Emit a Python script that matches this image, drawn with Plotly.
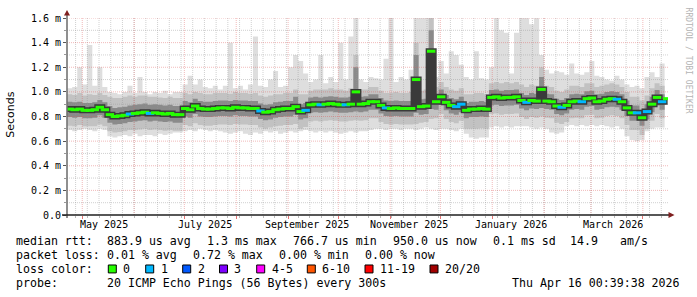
import plotly.graph_objects as go
import pandas as pd

# ---------------- data ----------------
dates = pd.date_range("2025-04-22", periods=120, freq="3D")

med = [0.86, 0.855, 0.86, 0.85, 0.85, 0.855, 0.875, 0.855,
       0.815, 0.80, 0.805, 0.81, 0.82, 0.825, 0.83, 0.835, 0.825, 0.83, 0.825, 0.82, 0.825, 0.815, 0.815,
       0.865, 0.855, 0.885, 0.865, 0.86, 0.86, 0.865, 0.87,
       0.87, 0.865, 0.875, 0.87, 0.87, 0.865, 0.865, 0.845, 0.835, 0.84,
       0.855, 0.86, 0.865, 0.865, 0.88, 0.84, 0.85,
       0.895, 0.9, 0.895, 0.9, 0.905, 0.9, 0.895, 0.895, 0.9, 1.0, 0.9, 0.905,
       0.92, 0.92, 0.89, 0.87, 0.865, 0.87, 0.865, 0.865, 0.865, 1.1,
       0.88, 0.885, 1.33, 0.92, 0.96, 0.915, 0.89, 0.88, 0.9, 0.85,
       0.86, 0.86, 0.865, 0.86, 0.955, 0.96, 0.95, 0.955, 0.955, 0.96,
       0.93, 0.915, 0.93, 0.925, 1.02, 0.925, 0.92, 0.885, 0.875, 0.89,
       0.92, 0.925, 0.92, 0.945, 0.95, 0.92, 0.925, 0.94, 0.945, 0.94,
       0.92, 0.87, 0.83, 0.83, 0.79, 0.84, 0.9, 0.955, 0.92, 0.945]

hi = [1.03, 1.04, 1.2, 1.06, 1.38, 1.05, 1.2, 1.04,
      1.0, 0.99, 0.98, 1.0, 1.05, 0.99, 1.12, 1.0, 0.98, 1.0, 0.99, 1.01, 0.98, 1.0, 1.0,
      1.06, 1.13, 1.06, 1.1, 1.04, 1.03, 1.05, 1.02,
      1.05, 1.4, 1.03, 1.05, 1.02, 1.06, 1.45, 1.05, 1.04, 1.1,
      1.17, 1.04, 1.05, 1.2, 1.3, 1.25, 1.15,
      1.08, 1.1, 1.3, 1.07, 1.12, 1.08, 1.4, 1.1, 1.45, 1.6, 1.1, 1.08,
      1.12, 1.11, 1.1, 1.27, 1.6, 1.08, 1.12, 1.1, 1.18, 1.6,
      1.6, 1.6, 1.6, 1.12, 1.25, 1.15, 1.33, 1.3, 1.22, 1.12,
      1.1, 1.33, 1.11, 1.1, 1.2, 1.6, 1.5, 1.48, 1.15, 1.48,
      1.6, 1.6, 1.55, 1.6, 1.3, 1.18, 1.15, 1.17, 1.16, 1.14,
      1.23, 1.15, 1.14, 1.16, 1.25, 1.13, 1.12, 1.1, 1.09, 1.13,
      1.1, 1.06, 1.04, 1.05, 1.03, 1.12, 1.16, 1.12, 1.23, 1.15]

lo = [0.69, 0.68, 0.69, 0.70, 0.69, 0.68, 0.70, 0.69,
      0.64, 0.63, 0.64, 0.65, 0.64, 0.66, 0.64, 0.65, 0.65, 0.64, 0.66, 0.65, 0.66, 0.67, 0.67,
      0.68, 0.69, 0.68, 0.70, 0.69, 0.68, 0.69, 0.68,
      0.67, 0.66, 0.67, 0.68, 0.66, 0.65, 0.67, 0.66, 0.68, 0.67,
      0.68, 0.66, 0.67, 0.68, 0.67, 0.68, 0.69,
      0.68, 0.67, 0.68, 0.67, 0.68, 0.67, 0.66, 0.67, 0.68, 0.67, 0.68, 0.68,
      0.69, 0.70, 0.70, 0.69, 0.70, 0.70, 0.69, 0.70, 0.70, 0.69,
      0.70, 0.71, 0.70, 0.69, 0.70, 0.70, 0.69, 0.68, 0.70, 0.66,
      0.63, 0.62, 0.63, 0.63, 0.71, 0.72, 0.71, 0.72, 0.71, 0.72,
      0.72, 0.72, 0.71, 0.70, 0.71, 0.70, 0.67, 0.66, 0.67, 0.72,
      0.73, 0.72, 0.73, 0.72, 0.73, 0.72, 0.73, 0.72, 0.71, 0.72,
      0.70, 0.64, 0.61, 0.60, 0.61, 0.68, 0.70, 0.71, 0.71, 0.72]

bh = [0.98, 0.975, 0.99, 0.97, 0.98, 0.975, 0.99, 0.975,
      0.96, 0.95, 0.95, 0.96, 0.97, 0.96, 0.97, 0.97, 0.96, 0.96, 0.955, 0.95, 0.96, 0.95, 0.95,
      0.99, 0.98, 1.0, 0.99, 0.98, 0.98, 0.99, 0.99,
      0.99, 0.985, 1.0, 0.99, 0.99, 0.985, 0.99, 0.97, 0.96, 0.97,
      0.98, 0.98, 0.99, 0.99, 1.02, 0.98, 0.98,
      1.01, 1.02, 1.02, 1.02, 1.03, 1.02, 1.02, 1.01, 1.03, 1.3, 1.02, 1.02,
      1.04, 1.04, 1.01, 0.99, 0.99, 1.0, 0.99, 0.99, 1.0, 1.4,
      1.01, 1.02, 1.6, 1.04, 1.08, 1.04, 1.02, 1.01, 1.03, 0.98,
      0.98, 0.99, 0.99, 0.98, 1.07, 1.08, 1.07, 1.08, 1.07, 1.08,
      1.06, 1.04, 1.06, 1.05, 1.2, 1.05, 1.04, 1.01, 1.0, 1.02,
      1.05, 1.05, 1.04, 1.07, 1.07, 1.04, 1.05, 1.06, 1.07, 1.06,
      1.04, 1.0, 0.96, 0.96, 0.93, 0.97, 1.03, 1.07, 1.05, 1.07]

bl = [0.725, 0.72, 0.73, 0.72, 0.72, 0.72, 0.735, 0.72,
      0.68, 0.67, 0.675, 0.68, 0.69, 0.69, 0.695, 0.70, 0.69, 0.695, 0.69, 0.685, 0.69, 0.685, 0.685,
      0.73, 0.72, 0.745, 0.73, 0.725, 0.725, 0.73, 0.735,
      0.735, 0.73, 0.74, 0.735, 0.735, 0.73, 0.73, 0.71, 0.70, 0.71,
      0.72, 0.725, 0.73, 0.73, 0.74, 0.70, 0.715,
      0.76, 0.765, 0.76, 0.765, 0.77, 0.765, 0.76, 0.76, 0.765, 0.77, 0.765, 0.77,
      0.785, 0.785, 0.755, 0.74, 0.735, 0.74, 0.735, 0.735, 0.735, 0.74,
      0.75, 0.755, 0.78, 0.785, 0.82, 0.78, 0.755, 0.745, 0.765, 0.70,
      0.70, 0.70, 0.705, 0.70, 0.82, 0.825, 0.815, 0.82, 0.82, 0.825,
      0.795, 0.78, 0.795, 0.79, 0.80, 0.79, 0.785, 0.75, 0.74, 0.755,
      0.785, 0.79, 0.785, 0.81, 0.815, 0.785, 0.79, 0.805, 0.81, 0.805,
      0.785, 0.73, 0.69, 0.69, 0.65, 0.70, 0.765, 0.82, 0.785, 0.81]

qh = [0.92, 0.915, 0.92, 0.91, 0.91, 0.915, 0.935, 0.915,
      0.885, 0.87, 0.875, 0.88, 0.89, 0.895, 0.9, 0.905, 0.895, 0.9, 0.895, 0.89, 0.895, 0.885, 0.885,
      0.925, 0.915, 0.945, 0.925, 0.92, 0.92, 0.925, 0.93,
      0.93, 0.925, 0.935, 0.93, 0.93, 0.925, 0.925, 0.905, 0.895, 0.9,
      0.915, 0.92, 0.925, 0.925, 0.96, 0.9, 0.91,
      0.955, 0.96, 0.955, 0.96, 0.965, 0.96, 0.955, 0.955, 0.96, 1.2, 0.96, 0.965,
      0.98, 0.98, 0.95, 0.93, 0.925, 0.93, 0.925, 0.925, 0.925, 1.3,
      0.94, 0.945, 1.5, 0.98, 1.02, 0.975, 0.95, 0.94, 0.96, 0.91,
      0.92, 0.92, 0.925, 0.92, 1.015, 1.02, 1.01, 1.015, 1.015, 1.02,
      0.99, 0.975, 0.99, 0.985, 1.12, 0.985, 0.98, 0.945, 0.935, 0.95,
      0.98, 0.985, 0.98, 1.005, 1.01, 0.98, 0.985, 1.0, 1.005, 1.0,
      0.98, 0.93, 0.89, 0.89, 0.85, 0.9, 0.96, 1.015, 0.98, 1.005]

ql = [0.795, 0.79, 0.795, 0.785, 0.785, 0.79, 0.81, 0.79,
      0.75, 0.735, 0.74, 0.745, 0.755, 0.76, 0.765, 0.77, 0.76, 0.765, 0.76, 0.755, 0.76, 0.75, 0.75,
      0.8, 0.79, 0.82, 0.8, 0.795, 0.795, 0.8, 0.805,
      0.805, 0.8, 0.81, 0.805, 0.805, 0.8, 0.8, 0.78, 0.77, 0.775,
      0.79, 0.795, 0.8, 0.8, 0.815, 0.775, 0.785,
      0.83, 0.835, 0.83, 0.835, 0.84, 0.835, 0.83, 0.83, 0.835, 0.84, 0.835, 0.84,
      0.855, 0.855, 0.825, 0.805, 0.8, 0.805, 0.8, 0.8, 0.8, 0.83,
      0.815, 0.82, 0.86, 0.855, 0.895, 0.85, 0.825, 0.815, 0.835, 0.785,
      0.795, 0.795, 0.8, 0.795, 0.89, 0.895, 0.885, 0.89, 0.89, 0.895,
      0.865, 0.85, 0.865, 0.86, 0.87, 0.86, 0.855, 0.82, 0.81, 0.825,
      0.855, 0.86, 0.855, 0.88, 0.885, 0.855, 0.86, 0.875, 0.88, 0.875,
      0.855, 0.805, 0.765, 0.765, 0.725, 0.775, 0.835, 0.89, 0.855, 0.88]

loss = [0, 0, 0, 0, 0, 0, 0, 0, 0, 0,
        0, 0, 1, 0, 0, 0, 1, 0, 0, 0,
        0, 0, 0, 0, 0, 0, 0, 0, 0, 0,
        0, 0, 0, 0, 0, 0, 0, 0, 1, 0,
        0, 0, 0, 0, 0, 0, 0, 1, 0, 0,
        1, 0, 0, 0, 0, 1, 0, 0, 0, 0,
        0, 0, 0, 1, 0, 0, 0, 0, 0, 0,
        0, 0, 0, 0, 0, 0, 0, 1, 1, 0,
        0, 0, 0, 0, 0, 0, 0, 0, 0, 0,
        0, 1, 0, 0, 0, 0, 0, 0, 1, 0,
        0, 0, 1, 0, 0, 0, 0, 0, 0, 1,
        0, 0, 0, 1, 0, 1, 0, 0, 1, 0]

x_range = ["2025-04-21 21:00", "2026-04-16 00:39"]
month_starts = pd.date_range("2025-05-01", "2026-04-01", freq="MS")
week_lines = pd.date_range("2025-04-27", "2026-04-12", freq="7D")
x_labels = ["May 2025", "July 2025", "September 2025", "November 2025", "January 2026", "March 2026"]
x_label_dates = ["2025-05-14", "2025-07-13 12:00", "2025-09-12 12:00",
                 "2025-11-12 12:00", "2026-01-12", "2026-03-14"]
y_ticks = [0.0, 0.2, 0.4, 0.6, 0.8, 1.0, 1.2, 1.4, 1.6]
y_ticktext = ["0.0", "0.2 m", "0.4 m", "0.6 m", "0.8 m", "1.0 m", "1.2 m", "1.4 m", "1.6 m"]
y_minor = [0.1, 0.3, 0.5, 0.7, 0.9, 1.1, 1.3, 1.5]

loss_labels = ["0", "1", "2", "3", "4-5", "6-10", "11-19", "20/20"]
loss_colors = ["#26ff00", "#00b8ff", "#0059ff", "#7e00ff", "#ff00ff", "#ff5500", "#ff0000", "#a10000"]

legend_line1 = [("median rtt:", 16), ("883.9 us avg", 107.3), ("1.3 ms max", 207.3),
                ("766.7 us min", 293.3), ("950.0 us now", 393.3), ("0.1 ms sd", 493.3),
                ("14.9", 570), ("am/s", 620)]
legend_line2 = [("packet loss:", 16), ("0.01 % avg", 107.3), ("0.72 % max", 193),
                ("0.00 % min", 279), ("0.00 % now", 365)]
loss_box_x = [108.3, 145.7, 182.7, 219.5, 256.7, 307.3, 365, 430]
probe_text = "20 ICMP Echo Pings (56 Bytes) every 300s"
stamp_text = "Thu Apr 16 00:39:38 2026"

# ---------------- geometry helpers ----------------
L, R, T, B = 67, 29, 16, 82
W, H = 697, 297
PW, PH = W - L - R, H - T - B


def px(x):
    return (x - L) / PW


def py(y):
    return (H - B - y) / PH


MONO = "DejaVu Sans Mono"
GRID = "rgba(150,150,150,0.45)"
MGRID = "rgba(222,90,90,0.42)"
DASH = "1px,1px"

fig = go.Figure()


def band(lower, upper, color):
    fig.add_trace(go.Scatter(x=dates, y=lower, mode="lines", line=dict(width=0, shape="hv"),
                             hoverinfo="skip"))
    fig.add_trace(go.Scatter(x=dates, y=upper, mode="lines", line=dict(width=0, shape="hv"),
                             fill="tonexty", fillcolor=color, hoverinfo="skip"))


band(lo, hi, "#dedede")      # outer smoke
band(bl, bh, "#c2c2c2")      # smoke body
band(ql, qh, "#8a8a8a")      # inner smoke


# grid, drawn over the smoke but under the median (rrdtool style)
def vgrid(vals, color):
    xs, ys = [], []
    for d in vals:
        xs += [d, d, None]
        ys += [0, 1.6, None]
    fig.add_trace(go.Scatter(x=xs, y=ys, mode="lines", line=dict(color=color, width=1, dash=DASH),
                             hoverinfo="skip", connectgaps=False))


def hgrid(vals, color):
    xs, ys = [], []
    for v in vals:
        xs += [x_range[0], x_range[1], None]
        ys += [v, v, None]
    fig.add_trace(go.Scatter(x=xs, y=ys, mode="lines", line=dict(color=color, width=1, dash=DASH),
                             hoverinfo="skip", connectgaps=False))


vgrid(week_lines, GRID)
hgrid(y_minor, GRID)
vgrid(month_starts, MGRID)
hgrid(y_ticks[1:], MGRID)

# dark core of the smoke around the median (with vertical links)
fig.add_trace(go.Scatter(x=dates, y=med, mode="lines",
                         line=dict(width=6, color="#3a3a3a", shape="hv"), hoverinfo="skip"))

# median: one horizontal segment per consolidation step, coloured by loss
step_mid = dates + pd.Timedelta(hours=36)
med_col = [loss_colors[l] for l in loss]
fig.add_trace(go.Scatter(x=step_mid, y=med, mode="markers",
                         marker=dict(symbol="line-ew", size=6, color=med_col,
                                     line=dict(width=3, color=med_col)),
                         hoverinfo="skip"))

shapes = []
# axes
shapes.append(dict(type="line", xref="paper", yref="paper", x0=px(67), x1=px(67),
                   y0=py(218), y1=py(12), line=dict(color="#6a6a6a", width=1.5), layer="above"))
shapes.append(dict(type="line", xref="paper", yref="paper", x0=px(62), x1=px(669),
                   y0=0, y1=0, line=dict(color="#1f1f1f", width=1.5), layer="above"))
# arrows
shapes.append(dict(type="path", xref="paper", yref="paper", xsizemode="pixel", ysizemode="pixel",
                   xanchor=0, yanchor=py(16), path="M -3,2.5 L 3,2.5 L 0,8 Z",
                   fillcolor="#7f1f1f", line=dict(width=0), layer="above"))
shapes.append(dict(type="path", xref="paper", yref="paper", xsizemode="pixel", ysizemode="pixel",
                   xanchor=px(668), yanchor=0, path="M 0.5,-3 L 0.5,3 L 6.5,0 Z",
                   fillcolor="#7f1f1f", line=dict(width=0), layer="above"))
# loss colour boxes
for bx, col in zip(loss_box_x, loss_colors):
    shapes.append(dict(type="rect", xref="paper", yref="paper",
                       x0=px(bx), x1=px(bx + 8), y0=py(273.5), y1=py(265.5),
                       fillcolor=col, line=dict(color="#000000", width=1)))

ann = []
for lab, d in zip(x_labels, x_label_dates):
    ann.append(dict(x=d, xref="x", y=py(224.5), yref="paper", text=lab, showarrow=False,
                    xanchor="center", yanchor="middle", font=dict(family=MONO, size=10, color="#000"),
                    borderpad=0))


def leg(text, x, y, anchor="left"):
    ann.append(dict(x=px(x), y=py(y), xref="paper", yref="paper", text=text.replace(" ", "\u00a0"),
                    showarrow=False, xanchor=anchor, yanchor="middle", borderpad=0,
                    font=dict(family=MONO, size=11.6, color="#000")))


for t, x in legend_line1:
    leg(t, x - 1, 241.5)
for t, x in legend_line2:
    leg(t, x - 1, 255.5)
leg("loss color:", 15, 269.5)
for lab, bx in zip(loss_labels, loss_box_x):
    leg(lab, bx + 14, 269.5)
leg("probe:", 15, 283.5)
leg(probe_text, 106.3, 283.5)
leg(stamp_text, 681, 283.5, anchor="right")

ann.append(dict(x=px(11), y=py(113.7), xref="paper", yref="paper", text="Seconds", textangle=-90,
                showarrow=False, xanchor="center", yanchor="middle", borderpad=0,
                font=dict(family="DejaVu Sans", size=11, color="#000")))
ann.append(dict(x=px(688), y=py(59), xref="paper", yref="paper", text="RRDTOOL / TOBI OETIKER",
                textangle=90, showarrow=False, xanchor="center", yanchor="middle", borderpad=0,
                font=dict(family=MONO, size=8, color="#b4b4b4")))

fig.update_layout(
    width=W, height=H, margin=dict(l=L, r=R, t=T, b=B, pad=0),
    paper_bgcolor="#ffffff", plot_bgcolor="#ffffff", showlegend=False,
    shapes=shapes, annotations=ann,
    xaxis=dict(type="date", range=x_range,
               tickvals=list(month_starts), ticktext=[""] * len(month_starts),
               ticks="outside", ticklen=3, tickcolor="rgba(222,80,80,0.8)",
               showgrid=False, zeroline=False, showline=False, fixedrange=True,
               minor=dict(tickvals=list(week_lines), ticks="outside", ticklen=2,
                          tickcolor="rgba(140,140,140,0.6)", showgrid=False)),
    yaxis=dict(range=[0, 1.6], tickvals=y_ticks, ticktext=y_ticktext, ticks="outside",
               ticklen=3, tickcolor="#555555", showgrid=False, zeroline=False, showline=False,
               tickfont=dict(family=MONO, size=10, color="#000"), fixedrange=True,
               minor=dict(tickvals=y_minor, ticks="outside", ticklen=2, tickcolor="#999999",
                          showgrid=False)),
)

fig.write_html("out.html", config={"displayModeBar": False})
